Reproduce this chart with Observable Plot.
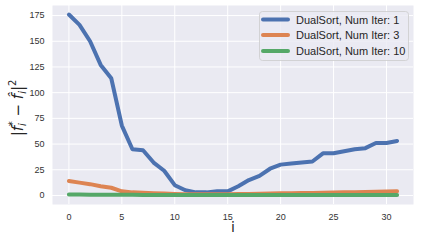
<!DOCTYPE html>
<html><head><meta charset="utf-8">
<script src="https://cdn.jsdelivr.net/npm/d3@7"></script>
<script src="https://cdn.jsdelivr.net/npm/@observablehq/plot@0.6"></script>
<style>
body{margin:0;background:#fff;}
#chart svg{font-family:"Liberation Sans",Arial,sans-serif;}
</style>
</head><body><div id="chart"></div>
<script>
const steps = [0,1,2,3,4,5,6,7,8,9,10,11,12,13,14,15,16,17,18,19,20,21,22,23,24,25,26,27,28,29,30,31];
const seriesNames = ["DualSort, Num Iter: 1","DualSort, Num Iter: 3","DualSort, Num Iter: 10"];
const iter1 = [176,166,150,127,114,68,45,44,32,24,10,5,3,3,4,4,9,15,19,26,30,31,32,33,41,41,43,45,46,51,51,53];
const iter3 = [14,12.5,11,9,7.5,4,3,2.6,2.2,1.8,1.4,1.2,1.1,1.1,1.1,1.2,1.3,1.5,1.7,1.9,2.1,2.2,2.3,2.5,2.7,2.9,3.0,3.2,3.4,3.6,3.8,4];
const iter10 = [1,0.9,0.8,0.7,0.7,0.6,0.6,0.5,0.5,0.5,0.5,0.4,0.4,0.4,0.4,0.4,0.4,0.4,0.4,0.4,0.4,0.4,0.4,0.4,0.4,0.4,0.4,0.4,0.4,0.4,0.4,0.4];
const seriesColors = ["#4C72B0","#DD8452","#55A868"];
const xTicks = [0,5,10,15,20,25,30];
const yTicks = [0,25,50,75,100,125,150,175];

const allValues = [iter1, iter3, iter10];
const data = [];
allValues.forEach((vals, k) => vals.forEach((v, j) => data.push({i: steps[j], v, s: seriesNames[k]})));

const W = 421, H = 242;
const plot = Plot.plot({
  width: W, height: H,
  marginLeft: 52, marginRight: 8, marginTop: 5, marginBottom: 38,
  style: {fontSize: "9px", fontFamily: "Liberation Sans, Arial, sans-serif", color: "#333", background: "white"},
  x: {domain: [-1.55, 32.55], ticks: xTicks},
  y: {domain: [-8.8, 184.8], ticks: yTicks},
  color: {domain: seriesNames, range: seriesColors},
  marks: [
    Plot.frame({fill: "#EAEAF2", stroke: null}),
    Plot.gridX(xTicks, {stroke: "white", strokeOpacity: 1, strokeWidth: 1}),
    Plot.gridY(yTicks, {stroke: "white", strokeOpacity: 1, strokeWidth: 1}),
    Plot.axisX(xTicks, {tickSize: 0, tickPadding: 9, label: null, fill: "#333"}),
    Plot.axisY(yTicks, {tickSize: 0, tickPadding: 8, label: null, fill: "#333"}),
    Plot.line(data, {x: "i", y: "v", z: "s", stroke: "s", strokeWidth: 4, strokeLinejoin: "round", strokeLinecap: "round"})
  ]
});
document.getElementById("chart").appendChild(plot);

const svg = d3.select(plot);
// x label
svg.append("text").attr("x", 233).attr("y", 232).attr("text-anchor", "middle")
  .attr("font-family", "DejaVu Sans, sans-serif").attr("font-size", 14).style("fill", "#262626").text("i");
// y label (math)
const yl = svg.append("text").attr("transform", "translate(23,108) rotate(-90)")
  .attr("text-anchor", "middle").attr("font-family", "DejaVu Sans, sans-serif").attr("font-size", 15).style("fill", "#262626");
yl.append("tspan").text("|");
yl.append("tspan").attr("font-style", "italic").text("f");
yl.append("tspan").attr("font-size", 10).attr("font-style", "italic").attr("dy", 3).text("i");
yl.append("tspan").attr("font-size", 10).attr("dy", -10).attr("dx", -3).text("*");
yl.append("tspan").attr("dy", 7).text(" \u2212 ");
yl.append("tspan").attr("font-style", "italic").text("f\u0302");
yl.append("tspan").attr("font-size", 10).attr("font-style", "italic").attr("dy", 3).text("i");
yl.append("tspan").attr("dy", -3).text("|");
yl.append("tspan").attr("font-size", 10).attr("dy", -7).text("2");

// legend
const lg = svg.append("g");
lg.append("rect").attr("x", 259.5).attr("y", 11.5).attr("width", 149).attr("height", 49).attr("rx", 3)
  .attr("fill", "#EAEAF2").attr("fill-opacity", 0.8).attr("stroke", "#CCCCCC").attr("stroke-width", 0.8);
const rowY = [19.5, 35, 51];
seriesNames.forEach((name, k) => {
  lg.append("line").attr("x1", 263).attr("x2", 288).attr("y1", rowY[k]).attr("y2", rowY[k])
    .attr("stroke", seriesColors[k]).attr("stroke-width", 4).attr("stroke-linecap", "round");
  lg.append("text").attr("x", 296).attr("y", rowY[k] + 4).attr("font-size", 11).attr("text-anchor", "start")
    .attr("font-family", "Liberation Sans, Arial, sans-serif").style("fill", "#262626").text(name);
});
</script>
</body></html>
